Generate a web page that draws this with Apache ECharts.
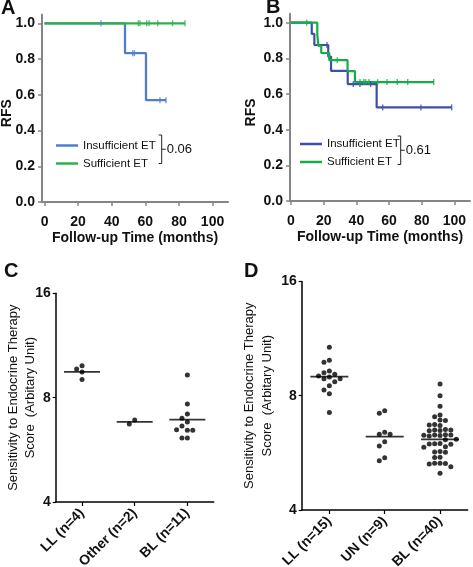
<!DOCTYPE html>
<html><head><meta charset="utf-8">
<script src="https://cdn.jsdelivr.net/npm/echarts@6/dist/echarts.min.js"></script>
<style>html,body{margin:0;padding:0;background:#fff}#c{width:473px;height:567px}</style>
</head><body><div id="c"></div>
<script>
// ---------- Panel A (Kaplan-Meier) ----------
const aInsuffSteps  = [[0,1.0],[47.9,0.833],[60.4,0.57],[72.3,0.57]];
const aInsuffCensor = [[33.6,1.0],[52.5,0.833],[53.5,0.833],[68.7,0.57],[72.3,0.57]];
const aSuffSteps    = [[0,1.0],[83.6,1.0]];
const aSuffCensor   = [[55.8,1],[56.8,1],[60.8,1],[62.2,1],[67.4,1],[76.2,1],[83.6,1]];
const aPValue = '0.06';
// ---------- Panel B (Kaplan-Meier) ----------
const bInsuffSteps  = [[0,1.0],[12.7,0.937],[14.3,0.875],[22.8,0.81],[24.5,0.73],[34.7,0.656],[52.4,0.525],[98.3,0.525]];
const bInsuffCensor = [[22,0.875],[38.1,0.656],[42.2,0.656],[48.7,0.656],[56.1,0.525],[79.5,0.525],[98.3,0.525]];
const bSuffSteps    = [[0,1.0],[16.1,0.933],[16.8,0.87],[18.5,0.83],[23.4,0.79],[34.6,0.729],[39.1,0.667],[87.3,0.667]];
const bSuffCensor   = [[9.6,1],[28.3,0.79],[42.2,0.667],[44.6,0.667],[45.7,0.667],[47.7,0.667],[53.0,0.667],[58.7,0.667],[65.0,0.667],[71.4,0.667],[87.3,0.667]];
const bPValue = '0.61';
const kmXTicks = [0,20,40,60,80,100];
const kmYTicks = [0,0.2,0.4,0.6,0.8,1.0];
const seriesNames = ['Insufficient ET','Sufficient ET'];
// ---------- Panel C (scores) ----------
const cCategories = ['LL (n=4)','Other (n=2)','BL (n=11)'];
const cLL    = [9.89, 9.68, 9.49, 9.02];
const cOther = [6.90, 6.72];
const cBL    = [9.30, 7.67, 7.18, 6.98, 6.81, 6.63, 6.44, 6.44, 6.46, 6.12, 6.12];
const cMeans = [9.49, 6.81, 6.91];
// ---------- Panel D (scores) ----------
const dCategories = ['LL (n=15)','UN (n=9)','BL (n=40)'];
const dLL = [10.73, 9.92, 9.80, 9.29, 9.20, 9.11, 9.02, 8.96, 8.87, 8.87, 8.71, 8.50, 8.28, 8.10, 7.22];
const dUN = [7.30, 7.19, 6.41, 6.33, 6.33, 6.05, 5.90, 5.49, 5.39];
const dBL = [8.59, 8.00, 7.50, 7.12, 7.04, 6.90, 6.88, 6.72, 6.70, 6.68, 6.52, 6.50, 6.50, 6.48, 6.47,
             6.31, 6.30, 6.30, 6.29, 6.28, 6.27, 6.14, 6.12, 5.99, 5.98, 5.97, 5.96, 5.87, 5.85, 5.70,
             5.69, 5.68, 5.51, 5.50, 5.31, 5.31, 5.30, 5.29, 5.20, 5.00];
const dMeans = [8.98, 6.24, 6.14];
const yTitle = 'Sensitivity to Endocrine Therapy\nScore  (Arbitary Unit)';

// ---------- styling ----------
const FF = "'Liberation Sans', Arial, Helvetica, sans-serif";
const blueA = '#4f7fcc', blueB = '#3d4fa9', greenA = '#2fb04f', greenB = '#16ad47';
const gray = '#858585';

const grids = [
  {left:42,    top:14.4,  width:186, height:187.6},
  {left:290,   top:13.8,  width:180, height:187.2},
  {left:55.7,  top:293.3, width:158, height:208.7},
  {left:301.7, top:281.4, width:166, height:228.6}
].map(g => Object.assign({containLabel:false, outerBoundsMode:'none'}, g));

// beeswarm layout (pixel-based) for the dot plots
function swarm(vals, catIdx, gridIdx) {
  const g = grids[gridIdx];
  const pxPerCat = g.width / 3;
  const pxPerDouble = g.height / 2;
  const d = 5.0, step = 5.4;
  const placed = [], out = [];
  vals.forEach(v => {
    const y = Math.log2(v) * pxPerDouble;
    for (let k = 0; k < 40; k++) {
      const off = k === 0 ? 0 : (k % 2 ? -1 : 1) * Math.ceil(k / 2) * step;
      if (placed.every(p => Math.hypot(p[0] - off, p[1] - y) >= d)) {
        placed.push([off, y]);
        out.push([catIdx + 0.5 + off / pxPerCat, v]);
        break;
      }
    }
  });
  return out;
}

function kmXAxis(gi, min, max) {
  return {
    type:'value', gridIndex:gi, min:min, max:max,
    name:'Follow-up Time (months)', nameLocation:'middle', nameGap:29,
    nameTextStyle:{fontFamily:FF, fontSize:14, fontWeight:'bold', color:'#111'},
    axisLine:{show:true, onZero:false, lineStyle:{color:gray, width:2}},
    axisTick:{show:true, length:4, customValues:kmXTicks, lineStyle:{color:gray, width:1.5}},
    axisLabel:{customValues:kmXTicks, margin:13, fontFamily:FF, fontSize:14, fontWeight:'bold', color:'#111'},
    splitLine:{show:false}
  };
}
function kmYAxis(gi, gap) {
  return {
    type:'value', gridIndex:gi, min:0, max:1.05,
    name:'RFS', nameLocation:'middle', nameGap:gap, nameRotate:90, nameMoveOverlap:false,
    nameTextStyle:{fontFamily:FF, fontSize:14, fontWeight:'bold', color:'#111', padding:[0,10,0,0]},
    axisLine:{show:true, onZero:false, lineStyle:{color:gray, width:2}},
    axisTick:{show:true, length:4, customValues:kmYTicks, lineStyle:{color:gray, width:1.5}},
    axisLabel:{customValues:kmYTicks, margin:7, formatter:v => v.toFixed(1), fontFamily:FF, fontSize:14, fontWeight:'bold', color:'#111'},
    splitLine:{show:false}
  };
}
function catAxis(gi, cats) {
  return {
    type:'category', gridIndex:gi, data:cats, boundaryGap:true,
    axisLine:{show:true, onZero:false, lineStyle:{color:'#000', width:1.5}},
    axisTick:{show:true, alignWithLabel:true, length:4, lineStyle:{color:'#000', width:1.2}},
    axisLabel:{interval:0, rotate:45, margin:9, fontFamily:FF, fontSize:14, fontWeight:'bold', color:'#111'},
    splitLine:{show:false}
  };
}
function posAxis(gi) {
  return {type:'value', gridIndex:gi, min:0, max:3, show:false, splitLine:{show:false}};
}
function scoreYAxis(gi, gap, lh) {
  return {
    type:'log', logBase:2, gridIndex:gi, min:4, max:16,
    name:yTitle, nameLocation:'middle', nameGap:gap, nameRotate:90, nameMoveOverlap:false,
    nameTextStyle:{fontFamily:FF, fontSize:13, color:'#111', lineHeight:lh, align:'center'},
    axisLine:{show:true, onZero:false, lineStyle:{color:'#000', width:1.5}},
    axisTick:{show:true, length:3, lineStyle:{color:'#000', width:1.2}},
    axisLabel:{margin:5, fontFamily:FF, fontSize:14, fontWeight:'bold', color:'#111'},
    splitLine:{show:false}, minorTick:{show:false}
  };
}

function stepLine(name, data, color, xi, yi, w) {
  return {type:'line', name:name, data:data, step:'end', xAxisIndex:xi, yAxisIndex:yi,
          symbol:'none', lineStyle:{color:color, width:w}, itemStyle:{color:color}, clip:false, silent:true, z:2};
}
function censor(data, color, xi, yi) {
  return {type:'scatter', data:data, xAxisIndex:xi, yAxisIndex:yi, symbol:'rect',
          symbolSize:[1.4, 6], itemStyle:{color:color}, silent:true, z:4};
}
function dots(data, xi, yi) {
  return {type:'scatter', data:data, xAxisIndex:xi, yAxisIndex:yi, symbol:'circle',
          symbolSize:5, itemStyle:{color:'#000'}, silent:true, z:4};
}
function meanBars(means, xi, yi, w) {
  return {type:'scatter', data:means.map((m,i) => [i + 0.5, m]), xAxisIndex:xi, yAxisIndex:yi,
          symbol:'rect', symbolSize:[w, 1.8], itemStyle:{color:'#000'}, silent:true, z:5};
}

const xAxes = [
  kmXAxis(0, -1.5, 109.2),   // 0
  kmXAxis(1, -0.6, 109.5),   // 1
  catAxis(2, cCategories),   // 2
  posAxis(2),                // 3
  catAxis(3, dCategories),   // 4
  posAxis(3)                 // 5
];
const yAxes = [
  kmYAxis(0, 28),
  kmYAxis(1, 32),
  scoreYAxis(2, 17, 17),
  scoreYAxis(3, 25, 18)
];

const series = [
  stepLine(seriesNames[0], aInsuffSteps, blueA, 0, 0, 2.3),
  stepLine(seriesNames[1], aSuffSteps, greenA, 0, 0, 2.3),
  censor(aInsuffCensor, blueA, 0, 0),
  censor(aSuffCensor, greenA, 0, 0),
  stepLine(seriesNames[0], bInsuffSteps, blueB, 1, 1, 2.2),
  stepLine(seriesNames[1], bSuffSteps, greenB, 1, 1, 2.2),
  censor(bInsuffCensor, blueB, 1, 1),
  censor(bSuffCensor, greenB, 1, 1),
  dots(swarm(cLL, 0, 2), 3, 2),
  dots(swarm(cOther, 1, 2), 3, 2),
  dots(swarm(cBL, 2, 2), 3, 2),
  meanBars(cMeans, 3, 2, 36),
  dots(swarm(dLL, 0, 3), 5, 3),
  dots(swarm(dUN, 1, 3), 5, 3),
  dots(swarm(dBL, 2, 3), 5, 3),
  meanBars(dMeans, 5, 3, 38)
];

function kmLegend(left, top, blue, green) {
  return {
    left:left, top:top, orient:'vertical', itemWidth:22, itemHeight:2.5, itemGap:6, icon:'rect',
    selectedMode:false,
    textStyle:{fontFamily:FF, fontSize:11.5, color:'#111'},
    data:[{name:seriesNames[0], itemStyle:{color:blue}}, {name:seriesNames[1], itemStyle:{color:green}}]
  };
}

function bracket(x, y1, y2, p) {
  const ym = (y1 + y2) / 2;
  return [
    {type:'polyline', shape:{points:[[x-3,y1],[x,y1],[x,y2],[x-3,y2]]}, style:{stroke:'#222', lineWidth:1, fill:null}},
    {type:'line', shape:{x1:x, y1:ym, x2:x+4, y2:ym}, style:{stroke:'#222', lineWidth:1}},
    {type:'text', x:x+5, y:ym, style:{text:p, fontFamily:FF, fontSize:13, fill:'#111', verticalAlign:'middle', align:'left'}}
  ];
}
function panelLetter(t, x, y) {
  return {type:'text', x:x, y:y, style:{text:t, fontFamily:FF, fontSize:20, fontWeight:'bold', fill:'#111'}};
}

const chart = echarts.init(document.getElementById('c'), null, {renderer:'canvas'});
chart.setOption({
  animation:false,
  backgroundColor:'#fff',
  grid:grids,
  xAxis:xAxes,
  yAxis:yAxes,
  legend:[kmLegend(51, 134.5, blueA, greenA), kmLegend(295, 133, blueB, greenB)],
  series:series,
  graphic:[].concat(
    bracket(161.7, 135, 163.5, aPValue),
    bracket(400.7, 136, 164.5, bPValue),
    [panelLetter('A', 1, -2), panelLetter('B', 266, -3), panelLetter('C', 4, 261), panelLetter('D', 244, 261)]
  )
});
</script></body></html>
